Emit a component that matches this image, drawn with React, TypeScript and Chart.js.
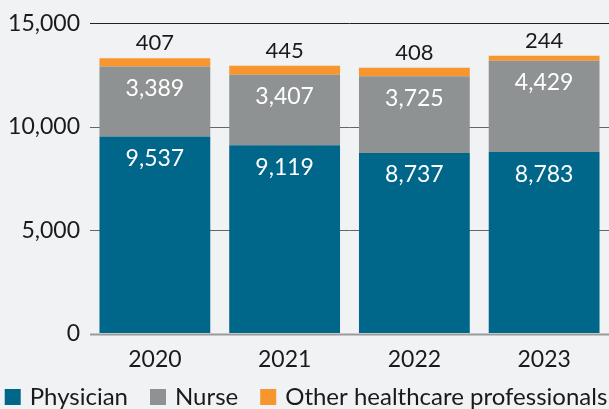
import React, { useEffect, useRef } from "react";
import { Chart, registerables } from "chart.js";

Chart.register(...registerables);

const years = ["2020", "2021", "2022", "2023"];
const physician = [9537, 9119, 8737, 8783];
const nurse = [3389, 3407, 3725, 4429];
const other = [407, 445, 408, 244];
const yTicks = [0, 5000, 10000, 15000];

const FONT = "Lato, 'Noto Sans', sans-serif";
const TEXT = "#1a1a1a";
const fmt = (v: number) => v.toLocaleString("en-US");

const labelPlugin = {
  id: "segLabels",
  afterDatasetsDraw(chart: any) {
    const ctx = chart.ctx;
    const { chartArea } = chart;
    ctx.save();
    // zero line
    const y0 = chart.scales.y.getPixelForValue(0);
    ctx.strokeStyle = "#9a9a9a";
    ctx.lineWidth = 2;
    ctx.beginPath();
    ctx.moveTo(chartArea.left, y0 + 1);
    ctx.lineTo(chartArea.right, y0 + 1);
    ctx.stroke();

    ctx.textAlign = "center";
    ctx.textBaseline = "middle";
    chart.data.datasets.forEach((ds: any, di: number) => {
      const meta = chart.getDatasetMeta(di);
      meta.data.forEach((bar: any, i: number) => {
        const v = ds.data[i];
        const top = Math.min(bar.y, bar.base);
        if (di < 2) {
          ctx.fillStyle = "#ffffff";
          ctx.font = `23px ${FONT}`;
          ctx.fillText(fmt(v), bar.x, top + 22);
        } else {
          ctx.fillStyle = TEXT;
          ctx.font = `22px ${FONT}`;
          ctx.fillText(fmt(v), bar.x, top - 15);
        }
      });
    });

    // legend
    ctx.font = `24px ${FONT}`;
    ctx.textAlign = "left";
    ctx.textBaseline = "alphabetic";
    const box = 16;
    const gapText = 9;
    const gapItem = 22;
    const items = chart.data.datasets.map((d: any) => ({
      text: d.label,
      color: d.backgroundColor,
      w: ctx.measureText(d.label).width,
    }));
    const total =
      items.reduce((s: number, it: any) => s + box + gapText + it.w, 0) + gapItem * (items.length - 1);
    let x = 306 - total / 2;
    const boxTop = 389;
    const baseline = 405;
    items.forEach((it: any) => {
      ctx.fillStyle = it.color;
      ctx.fillRect(x, boxTop, box, box);
      x += box + gapText;
      ctx.fillStyle = TEXT;
      ctx.fillText(it.text, x, baseline);
      x += it.w + gapItem;
    });
    ctx.restore();
  },
};

export default function App() {
  const ref = useRef<HTMLCanvasElement | null>(null);
  useEffect(() => {
    if (!ref.current) return;
    const chart = new Chart(ref.current, {
      type: "bar",
      data: {
        labels: years,
        datasets: [
          { label: "Physician", data: physician, backgroundColor: "#00668a" },
          { label: "Nurse", data: nurse, backgroundColor: "#8f9292" },
          { label: "Other healthcare professionals", data: other, backgroundColor: "#f7952f" },
        ],
      },
      options: {
        animation: false,
        responsive: false,
        maintainAspectRatio: false,
        layout: { padding: { top: 20, right: 0, bottom: 24, left: 0 } },
        datasets: { bar: { barPercentage: 0.854, categoryPercentage: 1 } },
        plugins: {
          tooltip: { enabled: false },
          legend: { display: false },
        },
        scales: {
          x: {
            stacked: true,
            grid: { display: false, drawTicks: false },
            border: { display: false },
            ticks: { color: TEXT, font: { family: FONT, size: 23 }, padding: 12 },
          },
          y: {
            stacked: true,
            min: 0,
            max: 15000,
            afterBuildTicks: (s: any) => {
              s.ticks = yTicks.map((v) => ({ value: v }));
            },
            afterFit: (s: any) => {
              s.width = 90;
            },
            grid: {
              drawTicks: false,
              color: (c: any) =>
                c.tick && c.tick.value === 15000
                  ? "#222222"
                  : c.tick && c.tick.value === 0
                  ? "rgba(0,0,0,0)"
                  : "#666666",
              lineWidth: 1,
            },
            border: { display: false },
            ticks: {
              color: TEXT,
              font: { family: FONT, size: 23 },
              padding: 10,
              callback: (v: any) => fmt(Number(v)),
            },
          },
        },
      },
      plugins: [labelPlugin],
    });
    return () => chart.destroy();
  }, []);
  return (
    <div style={{ position: "fixed", left: 0, top: 0, width: 609, height: 409, background: "#f1f2f4" }}>
      <canvas ref={ref} width={609} height={409} style={{ display: "block" }} />
    </div>
  );
}
